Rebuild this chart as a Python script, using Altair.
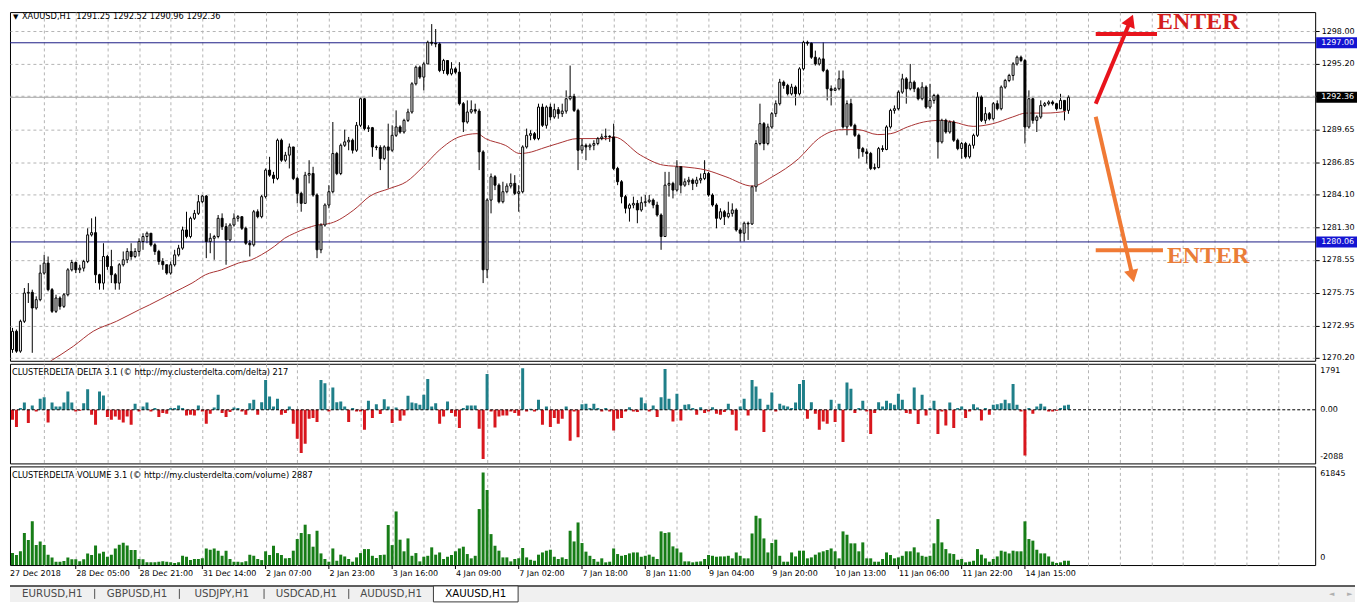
import json
import altair as alt
import pandas as pd

# ---------------- values ----------------
symbol_title = "XAUUSD,H1\u00a0\u00a01291.25 1292.52 1290.96 1292.36"
delta_title = "CLUSTERDELTA DELTA 3.1 (\u00a9 http://my.clusterdelta.com/delta) 217"
volume_title = "CLUSTERDELTA VOLUME 3.1 (\u00a9 http://my.clusterdelta.com/volume) 2887"

first_open = 1270.91
close = [
    1272.46, 1270.77, 1273.31, 1275.71, 1275.77, 1274.44, 1275.15, 1277.41, 1278.26, 1276.00,
    1274.16, 1275.29, 1274.58, 1275.57, 1277.69, 1278.31, 1277.69, 1277.83, 1278.40, 1280.66,
    1280.85, 1277.27, 1276.56, 1278.82, 1277.97, 1277.27, 1276.56, 1278.12, 1278.54, 1279.25,
    1278.82, 1279.25, 1280.09, 1280.52, 1280.80, 1279.81, 1279.25, 1278.40, 1278.12, 1277.41,
    1278.12, 1278.96, 1279.53, 1281.08, 1280.52, 1282.07, 1282.49, 1283.48, 1283.96, 1280.09,
    1280.37, 1280.52, 1282.07, 1281.36, 1280.23, 1281.50, 1282.07, 1282.21, 1281.22, 1279.95,
    1279.81, 1282.63, 1282.21, 1283.91, 1286.17, 1285.74, 1285.46, 1288.71, 1287.01, 1287.44,
    1288.14, 1285.46, 1284.19, 1283.34, 1285.74, 1285.88, 1284.05, 1279.39, 1281.50, 1283.20,
    1284.33, 1287.58, 1285.88, 1288.28, 1288.57, 1288.71, 1287.86, 1289.98, 1292.24, 1289.70,
    1289.78, 1288.14, 1288.09, 1287.15, 1288.14, 1287.86, 1289.13, 1289.84, 1289.41, 1290.40,
    1291.11, 1293.51, 1294.92, 1294.08, 1295.20, 1297.04, 1296.96, 1296.90, 1294.64, 1295.49,
    1294.36, 1294.78, 1294.50, 1291.82, 1290.26, 1291.11, 1291.31, 1291.19, 1287.72, 1277.69,
    1283.62, 1285.60, 1284.89, 1283.48, 1284.33, 1284.81, 1285.04, 1284.19, 1284.33, 1288.14,
    1289.13, 1289.27, 1288.85, 1291.53, 1289.98, 1291.53, 1290.69, 1291.31, 1290.97, 1291.19,
    1292.24, 1292.44, 1291.25, 1287.86, 1288.28, 1288.14, 1288.28, 1288.43, 1288.85, 1288.99,
    1289.05, 1288.99, 1286.31, 1285.18, 1283.91, 1282.92, 1283.20, 1283.34, 1282.78, 1283.40,
    1283.48, 1283.62, 1283.20, 1282.35, 1280.52, 1284.89, 1285.04, 1284.47, 1286.45, 1284.89,
    1285.18, 1285.32, 1285.04, 1285.32, 1285.46, 1285.88, 1284.05, 1283.20, 1282.07, 1282.63,
    1282.21, 1282.49, 1282.78, 1281.08, 1280.80, 1281.65, 1281.59, 1284.75, 1288.43, 1290.12,
    1288.43, 1289.84, 1290.97, 1291.82, 1293.65, 1293.37, 1292.66, 1293.23, 1292.66, 1294.78,
    1297.04, 1296.96, 1295.77, 1295.20, 1295.63, 1294.64, 1293.09, 1292.95, 1293.09, 1293.93,
    1289.84, 1291.82, 1289.98, 1289.13, 1288.00, 1287.72, 1287.58, 1286.31, 1286.39, 1288.00,
    1287.92, 1289.84, 1291.25, 1291.39, 1292.80, 1293.93, 1293.09, 1293.65, 1293.09, 1292.24,
    1293.23, 1291.53, 1292.10, 1292.52, 1288.57, 1290.40, 1289.41, 1290.26, 1288.71, 1288.00,
    1288.43, 1287.30, 1288.28, 1289.13, 1292.38, 1290.40, 1290.97, 1290.54, 1291.82, 1291.39,
    1293.23, 1293.79, 1294.22, 1295.20, 1295.77, 1295.49, 1289.84, 1292.24, 1290.40, 1290.69,
    1291.67, 1291.82, 1291.96, 1291.82, 1291.39, 1292.10, 1291.25, 1292.36,
]
high = [
    1272.75, 1272.61, 1273.45, 1276.14, 1276.56, 1276.00, 1275.43, 1278.12, 1278.96, 1278.82,
    1276.14, 1275.57, 1275.43, 1275.71, 1277.83, 1278.54, 1278.40, 1278.12, 1278.54, 1281.22,
    1282.07, 1282.21, 1277.35, 1279.95, 1278.96, 1279.39, 1277.41, 1278.26, 1279.25, 1279.53,
    1279.95, 1279.53, 1280.37, 1280.80, 1280.94, 1280.80, 1279.95, 1279.39, 1278.68, 1278.12,
    1278.40, 1279.39, 1279.81, 1281.36, 1282.63, 1282.21, 1282.78, 1284.05, 1284.05, 1284.05,
    1280.80, 1280.66, 1282.35, 1282.49, 1281.65, 1281.65, 1282.49, 1282.35, 1282.21, 1281.36,
    1280.23, 1282.78, 1282.83, 1284.05, 1286.31, 1287.30, 1286.02, 1288.85, 1288.85, 1287.72,
    1288.43, 1287.30, 1285.60, 1284.33, 1286.02, 1287.01, 1286.45, 1284.19, 1281.65, 1283.34,
    1284.89, 1290.26, 1287.72, 1288.43, 1289.61, 1288.99, 1288.85, 1290.26, 1292.38, 1292.32,
    1289.98, 1289.84, 1288.28, 1288.28, 1288.28, 1290.12, 1289.98, 1291.25, 1289.98, 1290.54,
    1291.39, 1293.65, 1295.06, 1295.06, 1295.35, 1297.18, 1298.59, 1298.17, 1297.04, 1295.63,
    1295.49, 1295.35, 1294.92, 1295.35, 1291.96, 1292.10, 1292.10, 1291.82, 1291.39, 1287.86,
    1283.76, 1285.88, 1285.74, 1285.04, 1285.18, 1285.04, 1285.88, 1285.74, 1284.89, 1288.28,
    1289.70, 1289.56, 1289.41, 1291.82, 1291.82, 1291.67, 1291.82, 1291.82, 1291.53, 1291.82,
    1292.95, 1295.06, 1292.66, 1291.39, 1288.85, 1288.43, 1288.43, 1288.71, 1288.99, 1289.27,
    1289.70, 1289.13, 1290.12, 1286.45, 1285.32, 1284.05, 1283.34, 1283.91, 1283.62, 1283.91,
    1284.05, 1284.05, 1283.76, 1283.48, 1282.49, 1286.02, 1286.02, 1285.18, 1287.01, 1286.45,
    1285.46, 1285.60, 1285.46, 1285.60, 1285.88, 1287.01, 1286.02, 1284.19, 1283.34, 1282.92,
    1282.78, 1283.48, 1283.34, 1282.92, 1281.22, 1281.79, 1281.79, 1284.89, 1288.71, 1291.82,
    1290.26, 1290.12, 1291.11, 1292.10, 1293.93, 1293.79, 1293.51, 1293.51, 1293.37, 1294.92,
    1297.18, 1297.18, 1297.04, 1296.33, 1295.77, 1297.04, 1294.78, 1293.37, 1293.23, 1294.64,
    1294.64, 1292.10, 1292.24, 1290.12, 1289.27, 1288.14, 1288.00, 1287.72, 1286.73, 1288.14,
    1288.28, 1289.98, 1291.39, 1291.67, 1292.95, 1294.36, 1294.08, 1295.20, 1293.79, 1293.23,
    1293.65, 1293.37, 1293.51, 1292.66, 1292.66, 1290.54, 1290.54, 1290.40, 1290.40, 1288.85,
    1288.57, 1288.57, 1288.43, 1289.27, 1292.80, 1292.52, 1291.53, 1291.11, 1291.96, 1292.10,
    1293.37, 1293.93, 1294.36, 1295.35, 1295.91, 1295.91, 1295.63, 1292.95, 1292.38, 1290.83,
    1292.10, 1291.96, 1292.10, 1292.10, 1291.82, 1292.66, 1292.10, 1292.52,
]
low = [
    1270.63, 1270.63, 1270.63, 1273.17, 1274.87, 1270.63, 1274.30, 1275.01, 1277.27, 1275.86,
    1274.02, 1274.02, 1274.30, 1274.44, 1275.43, 1277.55, 1277.41, 1277.41, 1277.55, 1278.26,
    1280.52, 1276.56, 1276.00, 1276.00, 1277.69, 1276.56, 1276.00, 1276.00, 1277.97, 1278.26,
    1278.54, 1278.68, 1278.82, 1279.39, 1279.95, 1279.67, 1278.96, 1278.12, 1277.69, 1277.27,
    1277.27, 1277.97, 1278.82, 1279.39, 1280.37, 1280.37, 1281.93, 1282.35, 1283.34, 1278.68,
    1279.10, 1278.54, 1280.37, 1281.08, 1278.12, 1280.09, 1281.36, 1281.79, 1281.08, 1279.81,
    1278.82, 1279.67, 1282.07, 1282.07, 1283.76, 1285.60, 1285.04, 1285.32, 1286.87, 1286.87,
    1286.31, 1285.32, 1283.34, 1282.63, 1283.48, 1285.04, 1283.91, 1278.68, 1279.10, 1281.36,
    1282.92, 1284.19, 1285.74, 1285.74, 1288.14, 1287.86, 1287.58, 1287.72, 1289.84, 1289.56,
    1289.41, 1287.30, 1287.86, 1286.17, 1287.01, 1284.61, 1287.72, 1288.99, 1289.27, 1289.27,
    1290.26, 1290.97, 1293.37, 1293.93, 1292.95, 1295.20, 1296.76, 1296.62, 1294.50, 1294.36,
    1294.22, 1294.22, 1294.36, 1291.67, 1289.41, 1290.12, 1290.97, 1290.97, 1286.17, 1276.56,
    1276.99, 1282.49, 1284.47, 1283.34, 1283.34, 1284.19, 1284.61, 1284.05, 1282.63, 1284.19,
    1288.00, 1288.71, 1288.71, 1288.71, 1289.84, 1289.70, 1290.40, 1290.54, 1290.54, 1290.69,
    1290.97, 1292.10, 1291.11, 1286.17, 1287.58, 1287.01, 1287.86, 1287.86, 1288.28, 1288.71,
    1288.71, 1288.57, 1286.17, 1284.89, 1283.34, 1282.49, 1281.79, 1282.92, 1281.65, 1282.63,
    1283.06, 1283.34, 1282.92, 1282.21, 1279.39, 1280.52, 1283.91, 1283.76, 1284.33, 1284.19,
    1284.75, 1284.89, 1284.47, 1284.75, 1285.04, 1285.32, 1283.91, 1283.06, 1281.22, 1281.93,
    1281.50, 1282.07, 1282.21, 1280.94, 1280.09, 1280.09, 1280.23, 1281.50, 1284.33, 1288.28,
    1287.86, 1288.28, 1289.70, 1290.69, 1291.67, 1293.09, 1292.52, 1292.52, 1291.67, 1292.52,
    1294.64, 1296.76, 1295.63, 1295.06, 1295.06, 1294.50, 1292.10, 1291.67, 1292.95, 1292.95,
    1289.70, 1289.13, 1289.84, 1288.99, 1287.15, 1287.30, 1286.73, 1286.17, 1286.17, 1286.31,
    1287.72, 1287.86, 1289.70, 1290.97, 1291.25, 1292.66, 1291.82, 1292.95, 1292.80, 1292.10,
    1292.10, 1291.39, 1291.39, 1291.82, 1287.15, 1288.43, 1289.27, 1289.27, 1288.57, 1287.86,
    1287.15, 1287.15, 1287.15, 1288.00, 1288.99, 1290.26, 1290.12, 1290.40, 1290.40, 1291.25,
    1291.25, 1293.09, 1293.65, 1293.79, 1295.06, 1295.35, 1288.43, 1289.70, 1290.12, 1289.41,
    1290.54, 1291.53, 1291.67, 1291.67, 1291.25, 1291.39, 1290.40, 1290.96,
]
delta = [
    -388, -672, 65, 284, -517, 168, -65, 427, 491, -491,
    284, 129, 129, 284, 711, 284, -65, -39, 258, 802,
    -194, -582, 711, 556, -284, -388, -258, -388, -491, -258,
    -582, 233, -65, 129, 284, -65, 65, -284, -129, -155,
    65, 65, 168, 65, -220, -194, -220, 168, -65, -543,
    -155, 90, 582, -129, -284, -90, 90, 65, -65, -194,
    258, 388, -194, 297, 1164, 517, 129, 427, -194, -129,
    129, -543, -1125, -1681, -1319, -349, -323, -478, 1164, 1034,
    -65, 866, 297, 323, 129, -478, 65, -65, -65, -776,
    349, -323, 220, -168, 414, 129, -517, 90, -427, -220,
    543, 284, 258, 194, 582, 1202, 129, 258, -543, -258,
    323, -129, -258, -711, 65, 168, 168, 168, -737, -1914,
    1396, -65, -685, -258, -220, -220, -65, -129, -233, 1616,
    -65, 39, -65, 388, -582, 129, -672, -323, -543, -349,
    129, -1202, -65, -1073, 220, 233, 65, 233, 65, -65,
    65, -65, -802, -349, -323, -65, 103, -65, -90, 478,
    258, -65, 168, -284, 491, 1590, 427, -453, 620, -414,
    194, 220, 65, -194, 103, -129, -65, 103, -155, -194,
    -90, 233, -194, -802, 129, 427, -220, 1164, 905, 427,
    -866, 194, 672, -65, 233, 168, 129, 65, 284, 1008,
    1164, -349, 297, -155, -776, -453, -543, 388, -478, 233,
    -1254, 1060, 815, -129, 65, 349, -65, -944, -129, 297,
    129, 349, 258, 194, 620, 388, -129, -155, 866, -556,
    582, -220, 65, 349, -944, -65, -608, 284, -711, 65,
    129, -323, -65, 220, 90, -414, 65, -194, 194, 220,
    258, 388, 258, 1008, 194, -65, -1784, 65, -155, 129,
    233, 129, -65, -65, -39, 65, 168, 194,
]
volume = [
    7500, 6300, 8600, 20100, 15700, 27400, 12500, 14800, 12500, 6500,
    4800, 2100, 2100, 2500, 4800, 3600, 3600, 2300, 3600, 7300,
    6300, 12300, 7300, 8400, 5200, 6500, 10400, 12700, 14000, 12300,
    9400, 9400, 3800, 3600, 1700, 1700, 1700, 2100, 2300, 2100,
    1700, 1300, 1700, 5800, 5200, 3100, 3800, 3800, 4200, 10400,
    9600, 10400, 9000, 5800, 9000, 3800, 2100, 2100, 1700, 2300,
    6500, 5800, 3800, 3100, 8600, 6300, 12100, 7500, 6300, 4200,
    4400, 9000, 16300, 20100, 25300, 19400, 11500, 21500, 7300, 3800,
    2100, 10400, 2700, 6500, 5400, 3800, 2100, 4800, 7500, 10000,
    10000, 5800, 4400, 6300, 6500, 25100, 12500, 33600, 15900, 8600,
    16700, 5800, 7500, 2300, 5200, 5800, 11100, 6500, 7900, 3800,
    5200, 6300, 8600, 10400, 11500, 6900, 4200, 5800, 35100, 58100,
    47000, 19400, 12100, 9000, 4800, 4800, 2300, 3800, 4200, 10700,
    4800, 3300, 2700, 6500, 7900, 9000, 9600, 5200, 3800, 4800,
    3800, 21500, 14800, 26700, 13800, 8400, 5800, 3800, 2100, 4200,
    1700, 2100, 10400, 6900, 5800, 6300, 7300, 7900, 7900, 5200,
    5800, 6500, 5200, 3800, 21100, 20100, 20500, 11700, 10400, 7900,
    2300, 2300, 1700, 2100, 2300, 3800, 6300, 5800, 5200, 5400,
    5400, 5800, 4200, 7900, 5800, 4200, 4200, 19800, 30900, 29300,
    16700, 7900, 13800, 15900, 5800, 2100, 2100, 7900, 5400, 9000,
    9000, 4200, 4800, 6500, 7900, 8600, 9400, 10400, 8600, 4200,
    21100, 19000, 13600, 13600, 8600, 14200, 4200, 4200, 2100, 2100,
    3800, 7900, 6300, 4200, 4800, 5800, 8600, 8600, 11100, 7900,
    5800, 5200, 5800, 13600, 28800, 14200, 10000, 7300, 6900, 3300,
    3800, 1700, 2100, 2700, 10000, 6500, 4200, 2100, 3800, 5400,
    9000, 8400, 7300, 9000, 8600, 8600, 27400, 16300, 15300, 9600,
    7300, 7300, 5400, 2100, 1300, 1700, 2700, 2700,
]
ma_bar = [9.6, 15.4, 20.4, 26.3, 32.1, 34.6, 40.4, 45.4, 48.8, 52.9, 57.1, 60.4, 62.9,
          66.3, 68.8, 71.3, 77.1, 80.4, 86.3, 90.4, 95.4, 99.6, 103.8, 107.9, 112.9,
          117.5, 119.6, 124.6, 128.3, 131.3, 133.8, 137.9, 142.9, 150.4, 152.1, 158.8,
          164.6, 169.6, 175.4, 180.4, 187.1, 192.1, 198.8, 203.8, 209.6, 213.8, 218.8,
          222.1, 226.3, 230.4, 234.6, 237.9, 242.9, 247.9, 252.9, 256.3, 261.3, 266.3]
ma_val = [1269.92, 1271.19, 1272.46, 1273.31, 1274.30, 1274.70, 1275.71, 1276.56, 1277.27,
          1277.69, 1278.26, 1278.54, 1278.96, 1279.70, 1280.37, 1280.80, 1281.50, 1281.65,
          1282.78, 1283.96, 1284.61, 1285.18, 1286.45, 1287.86, 1288.99, 1289.27, 1288.85,
          1288.28, 1287.58, 1287.72, 1288.00, 1288.43, 1288.85, 1288.85, 1288.99, 1287.44,
          1286.59, 1286.45, 1286.17, 1285.60, 1284.81, 1285.60, 1287.15, 1288.85, 1289.61,
          1289.61, 1289.19, 1289.27, 1289.84, 1290.26, 1290.40, 1290.26, 1289.89, 1290.12,
          1290.69, 1291.02, 1291.02, 1291.16]

price_ticks = [1298.00, 1295.20, 1292.45, 1289.65, 1286.85, 1284.10, 1281.30,
               1278.55, 1275.75, 1272.95, 1270.20]
date_labels = ["27 Dec 2018", "28 Dec 05:00", "28 Dec 21:00", "31 Dec 14:00", "2 Jan 07:00",
               "2 Jan 23:00", "3 Jan 16:00", "4 Jan 09:00", "7 Jan 02:00", "7 Jan 18:00",
               "8 Jan 11:00", "9 Jan 04:00", "9 Jan 20:00", "10 Jan 13:00", "11 Jan 06:00",
               "11 Jan 22:00", "14 Jan 15:00"]
date_tick_bars = list(range(16, 257, 16))
tabs = ["EURUSD,H1", "GBPUSD,H1", "USDJPY,H1", "USDCAD,H1", "AUDUSD,H1", "XAUUSD,H1"]
active_tab = "XAUUSD,H1"
level_prices = [1297.00, 1280.06]
last_price = 1292.36
box_prices = [1297.00, 1280.06, 1292.36]
box_colors = ["#1414d2", "#1414d2", "#000000"]

# hand-drawn annotations (bar index, price)
arrow_x = [273.9, 273.9]
arrow_y = [1291.81, 1290.71]
arrow_x2 = [282.7, 283.2]
arrow_y2 = [1298.90, 1277.14]
arrow_angle = [23, 167]
arrow_color = ["#e8141c", "#f07a35"]
hbar_x = [273.9, 273.9]
hbar_x2 = [289.4, 290.9]
hbar_y = [1297.75, 1279.36]
enter_x = [289.4, 291.9]
enter_y = [1298.75, 1278.85]
enter_color = ["#d41e1e", "#ea7d38"]

# ---------------- layout ----------------
W = 1310
H_MAIN, H_DELTA, H_VOL, H_TABS = 350, 100, 99, 34
TAB_W = 1350
X_DOM = [0.625, 0.625 + W / 4]
Y_MAIN = [1269.95, 1299.61]
Y_DELTA = [-2088, 1791]
Y_VOL = [0, 61845]
FONT = "DejaVu Sans"
GRID = "#b4b4b4"
TEAL = "#1f7f89"
RED = "#d8161d"
GREEN = "#177d17"

n = min(len(close), len(high), len(low), len(delta), len(volume))
opens = [first_open] + close[:n - 1]
bars = pd.DataFrame({
    "i": list(range(n)), "open": opens, "close": close[:n], "high": high[:n],
    "low": low[:n], "delta": delta[:n], "volume": volume[:n],
})
bars["hi"] = bars[["high", "open", "close"]].max(axis=1)
bars["lo"] = bars[["low", "open", "close"]].min(axis=1)
bars["zero"] = 0.0
ma = pd.DataFrame({"i": ma_bar, "v": ma_val})

xs = alt.Scale(domain=X_DOM, nice=False, zero=False)
ys_main = alt.Scale(domain=Y_MAIN, nice=False, zero=False)
ys_delta = alt.Scale(domain=Y_DELTA, nice=False, zero=False)
ys_vol = alt.Scale(domain=Y_VOL, nice=False, zero=False)
grid_vals = list(range(8, 321, 8))

grid_axis = alt.Axis(values=grid_vals, labels=False, ticks=False, domain=False, grid=True,
                     gridDash=[3, 3], gridColor=GRID, gridWidth=1, title=None)
price_axis = alt.Axis(orient="right", values=price_ticks, format=".2f", grid=True,
                      gridDash=[3, 3], gridColor=GRID, tickSize=4, tickColor="black",
                      labelPadding=2, domain=False, title=None, labelFont=FONT,
                      labelFontSize=8, labelColor="black", labelOverlap=False)
one = pd.DataFrame({"k": [0]})


def MX(field):
    return alt.X(field, scale=xs, axis=grid_axis)


def MY(field):
    return alt.Y(field, scale=ys_main, axis=price_axis)


def label_at(text, x, y, size=8, color="black", align="left", font=FONT, weight="normal"):
    return alt.Chart(pd.DataFrame({"t": [text]})).mark_text(
        align=align, baseline="middle", font=font, fontSize=size, color=color, fontWeight=weight
    ).encode(x=alt.value(x), y=alt.value(y), text="t:N")


# ---------------- main price panel ----------------
wicks = alt.Chart(bars).mark_rule(color="black", strokeWidth=1, clip=True).encode(
    x=MX("i:Q"), y=MY("lo:Q"), y2="hi:Q")
bodies = alt.Chart(bars).mark_bar(size=2, stroke="black", strokeWidth=1, clip=True).encode(
    x=MX("i:Q"), y=MY("open:Q"), y2="close:Q",
    fill=alt.condition("datum.close >= datum.open", alt.value("white"), alt.value("black")),
)
bid_line = alt.Chart(pd.DataFrame({"p": [last_price]})).mark_rule(
    color="#a8a8a8", strokeWidth=1).encode(y=MY("p:Q"))
level_lines = alt.Chart(pd.DataFrame({"p": level_prices})).mark_rule(
    color="#1c1c86", strokeWidth=1).encode(y=MY("p:Q"))
ma_line = alt.Chart(ma).mark_line(color="#a83232", strokeWidth=1, interpolate="monotone",
                                  clip=True).encode(x=MX("i:Q"), y=MY("v:Q"))

boxes = pd.DataFrame({"p": box_prices, "c": box_colors,
                      "t": [f"{p:.2f}" for p in box_prices]})
boxes["pt"] = boxes["p"] + 0.47
boxes["pb"] = boxes["p"] - 0.47
box_rects = alt.Chart(boxes).mark_rect().encode(
    x=alt.value(W + 1), x2=alt.value(W + 42), y=MY("pt:Q"), y2="pb:Q",
    color=alt.Color("c:N", scale=None))
box_text = alt.Chart(boxes).mark_text(align="left", baseline="middle", font=FONT, fontSize=8,
                                      color="white").encode(
    x=alt.value(W + 6), y=MY("p:Q"), text="t:N")

ann = pd.DataFrame({"ax": arrow_x, "ay": arrow_y, "bx": arrow_x2, "by": arrow_y2,
                    "a": arrow_angle, "c": arrow_color})
shafts = alt.Chart(ann).mark_rule(strokeWidth=4).encode(
    x=MX("ax:Q"), x2="bx:Q", y=MY("ay:Q"), y2="by:Q", color=alt.Color("c:N", scale=None))
heads = alt.Chart(ann).mark_point(shape="triangle-up", filled=True, size=210, opacity=1).encode(
    x=MX("bx:Q"), y=MY("by:Q"),
    angle=alt.Angle("a:Q", scale=None), color=alt.Color("c:N", scale=None))
hb = pd.DataFrame({"ax": hbar_x, "bx": hbar_x2, "ay": hbar_y, "c": arrow_color})
hbars = alt.Chart(hb).mark_rule(strokeWidth=4).encode(
    x=MX("ax:Q"), x2="bx:Q", y=MY("ay:Q"), color=alt.Color("c:N", scale=None))
en = pd.DataFrame({"ax": enter_x, "ay": enter_y, "c": enter_color, "t": ["ENTER", "ENTER"]})
enter_text = alt.Chart(en).mark_text(font="Liberation Serif", fontWeight="bold", fontSize=24,
                                     align="left", baseline="middle").encode(
    x=MX("ax:Q"), y=MY("ay:Q"), text="t:N", color=alt.Color("c:N", scale=None))

main = alt.layer(
    wicks, bid_line, level_lines, ma_line, bodies, box_rects, box_text,
    shafts, heads, hbars, enter_text,
    label_at("\u25bc", 3, 5, size=7),
    label_at(symbol_title, 12, 5, size=8.3),
).properties(width=W, height=H_MAIN)

# ---------------- delta panel ----------------
delta_bars = alt.Chart(bars).mark_bar(size=3, clip=True).encode(
    x=alt.X("i:Q", scale=xs, axis=grid_axis),
    y=alt.Y("delta:Q", scale=ys_delta, axis=None), y2="zero:Q",
    color=alt.condition("datum.delta >= 0", alt.value(TEAL), alt.value(RED)))
zero_line = alt.Chart(pd.DataFrame({"z": [0]})).mark_rule(
    color="black", strokeDash=[3, 2], strokeWidth=1).encode(
    y=alt.Y("z:Q", scale=ys_delta, axis=None))
delta_panel = alt.layer(
    delta_bars, zero_line,
    label_at(delta_title, 2, 9, size=8.3),
    label_at("1791", W + 5, 7), label_at("0.00", W + 5, 46), label_at("-2088", W + 5, 94),
).properties(width=W, height=H_DELTA)

# ---------------- volume panel ----------------
label_expr = ("datum.value % 16 === 0 && datum.value <= 256 ? "
              + json.dumps(date_labels) + "[datum.value / 16] : ''")
date_axis = alt.Axis(values=grid_vals, grid=True, gridDash=[3, 3], gridColor=GRID, domain=False,
                     ticks=False, labelExpr=label_expr,
                     labelAlign="left", labelPadding=5, labelFont=FONT, labelFontSize=8,
                     labelColor="black", labelOverlap=False, labelFlush=False, title=None)
vol_bars = alt.Chart(bars).mark_bar(size=3, clip=True, color=GREEN).encode(
    x=alt.X("i:Q", scale=xs, axis=date_axis),
    y=alt.Y("volume:Q", scale=ys_vol, axis=None), y2="zero:Q")
date_ticks = alt.Chart(pd.DataFrame({"i": date_tick_bars})).mark_rule(
    color="black", strokeWidth=1).encode(
    x=alt.X("i:Q", scale=xs, axis=date_axis), y=alt.value(H_VOL), y2=alt.value(H_VOL + 4))
vol_panel = alt.layer(
    vol_bars, date_ticks,
    label_at(volume_title, 2, 10, size=8.3),
    label_at("61845", W + 5, 8), label_at("0", W + 5, 92),
    label_at(date_labels[0], 0, H_VOL + 9.5),
).properties(width=W, height=H_VOL)

# ---------------- tab bar ----------------
tab_df = pd.DataFrame({"name": tabs})
tab_df["k"] = list(range(len(tabs)))
tab_df["c"] = tab_df["k"] + 0.5
tab_df["k1"] = tab_df["k"] + 1
tab_df["col"] = ["black" if t == active_tab else "#4a4a4a" for t in tabs]
xs_tab = alt.Scale(domain=[0, TAB_W / 85], nice=False, zero=False)

tab_bg = alt.Chart(one).mark_rect(color="#f0f0f0").encode(
    x=alt.value(0), x2=alt.value(TAB_W), y=alt.value(18), y2=alt.value(H_TABS))
tab_top = alt.Chart(one).mark_rule(color="#2a2a2a", strokeWidth=1.5).encode(
    x=alt.value(0), x2=alt.value(TAB_W), y=alt.value(18))
tab_active = alt.Chart(tab_df[tab_df["name"] == active_tab]).mark_rect(
    fill="white", stroke="#3a3a3a", strokeWidth=1).encode(
    x=alt.X("k:Q", scale=xs_tab, axis=None), x2="k1:Q", y=alt.value(18), y2=alt.value(H_TABS))
tab_seps = alt.Chart(tab_df[(tab_df["k"] >= 1) & (tab_df["k"] <= 4)]).mark_rule(
    color="#505050").encode(
    x=alt.X("k:Q", scale=xs_tab, axis=None), y=alt.value(21), y2=alt.value(31))
tab_text = alt.Chart(tab_df).mark_text(font=FONT, fontSize=10.3, baseline="middle",
                                       align="center").encode(
    x=alt.X("c:Q", scale=xs_tab, axis=None), y=alt.value(26.5), text="name:N",
    color=alt.Color("col:N", scale=None))
tab_panel = alt.layer(
    tab_bg, tab_top, tab_active, tab_seps, tab_text,
    label_at("\u25c4", TAB_W - 26, 26.5, size=7, color="#b0b0b0"),
    label_at("\u25ba", TAB_W - 8, 26.5, size=7, color="#b0b0b0"),
).properties(width=TAB_W, height=H_TABS,
             view=alt.ViewBackground(stroke="transparent"))

chart = alt.vconcat(
    main, delta_panel, vol_panel, tab_panel, spacing=3, bounds="flush"
).resolve_scale(
    x="independent", y="independent", color="independent"
).properties(
    padding=0, background="white"
).configure_view(
    stroke="black", strokeWidth=1
)

chart.save("out.html", embed_options={"renderer": "svg", "actions": False})
